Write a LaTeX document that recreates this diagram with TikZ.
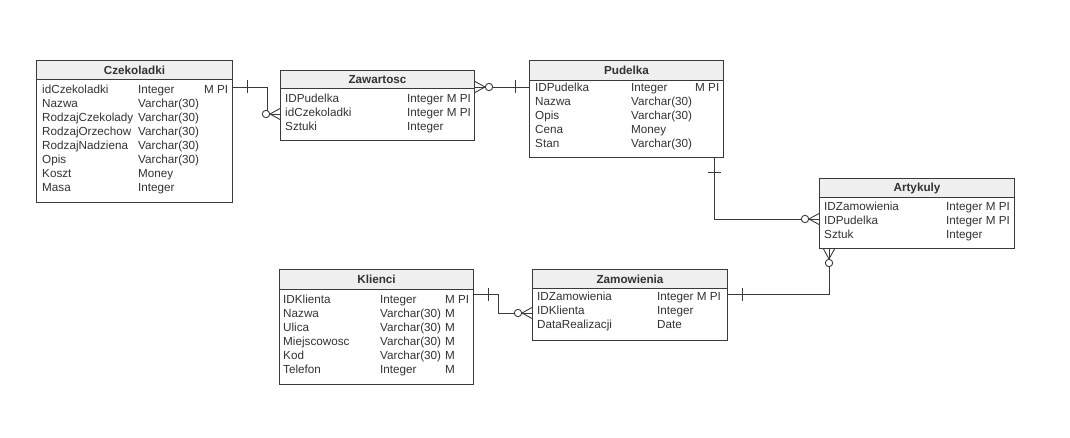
\documentclass[tikz,border=0pt]{standalone}
\usepackage{fontspec}
\setmainfont{Liberation Sans}
\usetikzlibrary{calc}
\definecolor{ln}{HTML}{3A3A3A}
\definecolor{hd}{HTML}{EFEFEF}
\definecolor{tx}{HTML}{333333}
\newcommand\ftext[3]{\node[fld] (#1) at (#2) {#3};}
\tikzset{
 tbl/.style={draw=ln, line width=1pt, inner sep=0pt, anchor=north west},
 hdr/.style={draw=ln, fill=hd, line width=1pt, inner sep=0pt, anchor=north west,
   font=\bfseries\fontsize{11.7}{12}\selectfont, text=tx},
 fld/.style={font=\fontsize{11.7}{12}\selectfont, text=tx, inner sep=0pt, anchor=base west, yshift=-1pt},
 conn/.style={draw=ln, line width=0.9pt},
 zmany/.pic={\draw[conn] (0,5.5)--(10,0)--(0,-5.5); \draw[conn] (0,0)--(10,0);
   \draw[conn,fill=white] (14,0) circle (3.7);},
 onebar/.pic={\draw[conn] (14,-6.5)--(14,6.5);}
}
\begin{document}
\begin{tikzpicture}[x=1pt,y=-1pt]
\useasboundingbox (0,0) rectangle (1070,438);
\fill[white] (0,0) rectangle (1070,438);

% ---------- tables ----------
\node[tbl, minimum width=196, minimum height=142] (czek) at (36,60) {};
\node[hdr, minimum width=196, minimum height=19] (czekh) at (czek.north west) {Czekoladki};

\node[tbl, minimum width=194, minimum height=70] (zaw) at (280,70) {};
\node[hdr, minimum width=194, minimum height=18] (zawh) at (zaw.north west) {Zawartosc};

\node[tbl, minimum width=194, minimum height=97] (pud) at (529,60) {};
\node[hdr, minimum width=194, minimum height=20] (pudh) at (pud.north west) {Pudelka};

\node[tbl, minimum width=195, minimum height=70] (art) at (819,178) {};
\node[hdr, minimum width=195, minimum height=19] (arth) at (art.north west) {Artykuly};

\node[tbl, minimum width=194, minimum height=115] (kli) at (279,269) {};
\node[hdr, minimum width=194, minimum height=20] (klih) at (kli.north west) {Klienci};

\node[tbl, minimum width=195, minimum height=71] (zam) at (532,269) {};
\node[hdr, minimum width=195, minimum height=19] (zamh) at (zam.north west) {Zamowienia};

% ---------- Czekoladki rows ----------
\ftext{c1n}{42,93}{idCzekoladki}   \ftext{c1t}{138,93}{Integer} \ftext{c1f}{204,93}{M PI}
\ftext{c2n}{42,107}{Nazwa}         \ftext{c2t}{138,107}{Varchar(30)}
\ftext{c3n}{42,121}{RodzajCzekolady} \ftext{c3t}{138,121}{Varchar(30)}
\ftext{c4n}{42,135}{RodzajOrzechow}  \ftext{c4t}{138,135}{Varchar(30)}
\ftext{c5n}{42,149}{RodzajNadziena}  \ftext{c5t}{138,149}{Varchar(30)}
\ftext{c6n}{42,163}{Opis}          \ftext{c6t}{138,163}{Varchar(30)}
\ftext{c7n}{42,177}{Koszt}         \ftext{c7t}{138,177}{Money}
\ftext{c8n}{42,191}{Masa}          \ftext{c8t}{138,191}{Integer}

% ---------- Zawartosc rows ----------
\ftext{w1n}{285,102}{IDPudelka}    \ftext{w1t}{407,102}{Integer M PI}
\ftext{w2n}{285,116}{idCzekoladki} \ftext{w2t}{407,116}{Integer M PI}
\ftext{w3n}{285,130}{Sztuki}       \ftext{w3t}{407,130}{Integer}

% ---------- Pudelka rows ----------
\ftext{p1n}{535,91}{IDPudelka}  \ftext{p1t}{631,91}{Integer} \ftext{p1f}{695,91}{M PI}
\ftext{p2n}{535,105}{Nazwa}     \ftext{p2t}{631,105}{Varchar(30)}
\ftext{p3n}{535,119}{Opis}      \ftext{p3t}{631,119}{Varchar(30)}
\ftext{p4n}{535,133}{Cena}      \ftext{p4t}{631,133}{Money}
\ftext{p5n}{535,147}{Stan}      \ftext{p5t}{631,147}{Varchar(30)}

% ---------- Artykuly rows ----------
\ftext{a1n}{824,210}{IDZamowienia} \ftext{a1t}{946,210}{Integer M PI}
\ftext{a2n}{824,224}{IDPudelka}    \ftext{a2t}{946,224}{Integer M PI}
\ftext{a3n}{824,238}{Sztuk}        \ftext{a3t}{946,238}{Integer}

% ---------- Klienci rows ----------
\ftext{k1n}{283,302}{IDKlienta}   \ftext{k1t}{380,302}{Integer}     \ftext{k1f}{445,302}{M PI}
\ftext{k2n}{283,316}{Nazwa}       \ftext{k2t}{380,316}{Varchar(30)} \ftext{k2f}{445,316}{M}
\ftext{k3n}{283,330}{Ulica}       \ftext{k3t}{380,330}{Varchar(30)} \ftext{k3f}{445,330}{M}
\ftext{k4n}{283,344}{Miejscowosc} \ftext{k4t}{380,344}{Varchar(30)} \ftext{k4f}{445,344}{M}
\ftext{k5n}{283,358}{Kod}         \ftext{k5t}{380,358}{Varchar(30)} \ftext{k5f}{445,358}{M}
\ftext{k6n}{283,372}{Telefon}     \ftext{k6t}{380,372}{Integer}     \ftext{k6f}{445,372}{M}

% ---------- Zamowienia rows ----------
\ftext{z1n}{537,299}{IDZamowienia}   \ftext{z1t}{657,299}{Integer M PI}
\ftext{z2n}{537,313}{IDKlienta}      \ftext{z2t}{657,313}{Integer}
\ftext{z3n}{537,327}{DataRealizacji} \ftext{z3t}{657,327}{Date}

% ---------- connectors ----------
% Czekoladki -> Zawartosc
\coordinate (e1a) at ($(czek.north east)+(0,27)$);
\coordinate (e1b) at ($(zaw.north west)+(0,44)$);
\draw[conn] (e1a) -- ++(34,0) |- (e1b);
\pic at (e1a) {onebar};
\pic[rotate=180] at (e1b) {zmany};

% Zawartosc -> Pudelka
\coordinate (e2a) at ($(zaw.north east)+(0,17)$);
\coordinate (e2b) at ($(pud.north west)+(0,27)$);
\draw[conn] (e2a) -- (e2b);
\pic at (e2a) {zmany};
\pic[rotate=180] at (e2b) {onebar};

% Pudelka -> Artykuly
\coordinate (e3a) at ($(pud.south east)+(-10,0)$);
\coordinate (e3b) at ($(art.north west)+(0,41)$);
\draw[conn] (e3a) |- (e3b);
\pic[rotate=-90] at (e3a) {onebar};
\pic[rotate=180] at (e3b) {zmany};

% Zamowienia -> Artykuly
\coordinate (e4a) at ($(zam.north east)+(0,25)$);
\coordinate (e4b) at ($(art.south west)+(10,0)$);
\draw[conn] (e4a) -| (e4b);
\pic at (e4a) {onebar};
\pic[rotate=-90] at (e4b) {zmany};

% Klienci -> Zamowienia
\coordinate (e5a) at ($(kli.north east)+(0,25)$);
\coordinate (e5b) at ($(zam.north west)+(0,44)$);
\draw[conn] (e5a) -- ++(24,0) |- (e5b);
\pic at (e5a) {onebar};
\pic[rotate=180] at (e5b) {zmany};
\end{tikzpicture}
\end{document}
